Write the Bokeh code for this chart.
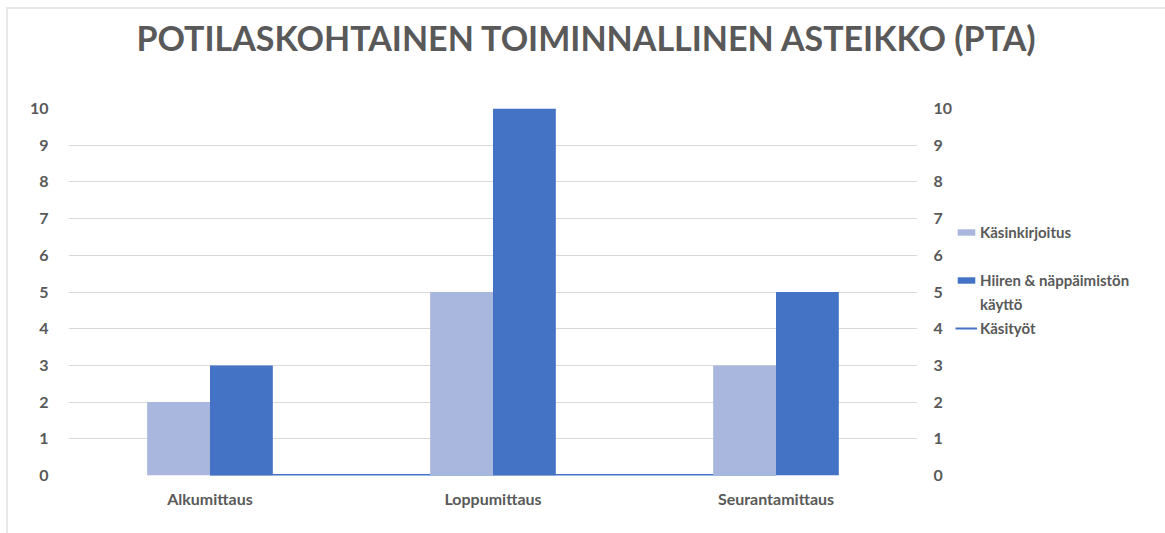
from bokeh.plotting import figure
from bokeh.layouts import column, row
from bokeh.models import (FactorRange, Range1d, LinearAxis, FixedTicker, Legend, LegendItem,
                          ColumnDataSource, Div)
from bokeh.transform import dodge
from bokeh.embed import file_html
from bokeh.resources import INLINE

categories = ["Alkumittaus", "Loppumittaus", "Seurantamittaus"]
kasinkirjoitus = [2, 5, 3]
hiiri_nappaimisto = [3, 10, 5]
kasityot = [0, 0, 0]
y_ticks = list(range(0, 11))
title_text = "POTILASKOHTAINEN TOIMINNALLINEN ASTEIKKO (PTA)"

FONT = "Lato"
GRAY = "#595959"
C_LIGHT = "#A9B6DE"
C_DARK = "#4472C4"

src = ColumnDataSource(dict(cat=categories, a=kasinkirjoitus, b=hiiri_nappaimisto, c=kasityot))

p = figure(x_range=FactorRange(*categories, range_padding=0), y_range=Range1d(0, 10),
           frame_width=849, frame_height=367, output_backend="svg", toolbar_location=None,
           min_border_left=68, min_border_right=38, min_border_bottom=40, min_border_top=38)
p.border_fill_alpha = 0

p.line(x="cat", y="c", source=src, line_color=C_DARK, line_width=3)
p.vbar(x=dodge("cat", -0.111, range=p.x_range), top="a", width=0.222, source=src,
       fill_color=C_LIGHT, line_color=None)
p.vbar(x=dodge("cat", 0.111, range=p.x_range), top="b", width=0.222, source=src,
       fill_color=C_DARK, line_color=None)

p.outline_line_color = None
p.xgrid.grid_line_color = None
p.ygrid.grid_line_color = "#D9D9D9"
p.ygrid.ticker = FixedTicker(ticks=y_ticks)

p.yaxis.ticker = FixedTicker(ticks=y_ticks)
right = LinearAxis(ticker=FixedTicker(ticks=y_ticks))
p.add_layout(right, "right")

for ax in p.yaxis:
    ax.axis_line_color = None
    ax.major_tick_line_color = None
    ax.minor_tick_line_color = None
    ax.major_label_text_font = FONT
    ax.major_label_text_font_size = "16px"
    ax.major_label_text_font_style = "bold"
    ax.major_label_text_color = GRAY
p.yaxis[0].major_label_standoff = 14
right.major_label_standoff = 10

xa = p.xaxis[0]
xa.axis_line_color = None
xa.major_tick_line_color = None
xa.major_label_text_font = FONT
xa.major_label_text_font_size = "16px"
xa.major_label_text_font_style = "bold"
xa.major_label_text_color = GRAY
xa.major_label_standoff = 7

# legend panel: companion figure whose view range hides its glyphs, showing only the legend
lf = figure(x_range=FactorRange(*categories, range_padding=0), y_range=Range1d(100, 101),
            frame_width=205, frame_height=367, output_backend="svg", toolbar_location=None,
            min_border_left=0, min_border_right=0, min_border_bottom=40, min_border_top=38,
            x_axis_location=None, y_axis_location=None)
lf.border_fill_alpha = 0
lf.background_fill_alpha = 0
lf.outline_line_color = None
lf.grid.grid_line_color = None
l_line = lf.line(x="cat", y="c", source=src, line_color=C_DARK, line_width=2)
l_a = lf.vbar(x="cat", top="a", width=0.0001, source=src, fill_color=C_LIGHT, line_color=None)
l_b = lf.vbar(x="cat", top="b", width=0.0001, source=src, fill_color=C_DARK, line_color=None)
l_blank = lf.line(x="cat", y="c", source=src, line_alpha=0)
l_cont = lf.line(x="cat", y="c", source=src, line_alpha=0)

legend = Legend(items=[
    LegendItem(label="Käsinkirjoitus", renderers=[l_a]),
    LegendItem(label=" ", renderers=[l_blank]),
    LegendItem(label="Hiiren & näppäimistön", renderers=[l_b]),
    LegendItem(label="käyttö", renderers=[l_cont]),
    LegendItem(label="Käsityöt", renderers=[l_line]),
], location=(0, 137))
legend.border_line_color = None
legend.background_fill_alpha = 0
legend.padding = 0
legend.margin = 0
legend.spacing = 4
legend.label_height = 20
legend.glyph_width = 22
legend.glyph_height = 8
legend.label_standoff = 3
legend.label_text_font = FONT
legend.label_text_font_size = "15px"
legend.label_text_font_style = "bold"
legend.label_text_color = GRAY
lf.add_layout(legend)

title_div = Div(
    text=(f'<div style="position:absolute;left:6px;top:7px;width:1160px;height:530px;'
          f'border-left:2px solid #E8E8E8;border-top:2px solid #E8E8E8;pointer-events:none;"></div>'
          f'<div style="width:1150px;box-sizing:border-box;padding-left:22px;padding-top:14px;'
          f'text-align:center;font-family:{FONT};font-weight:bold;font-size:34px;'
          f'color:{GRAY};white-space:nowrap;">{title_text}</div>'),
    width=1150, height=70, margin=0)

layout = column(title_div, row(p, lf, spacing=0), spacing=0)
open("out.html", "w").write(file_html(layout, INLINE))
